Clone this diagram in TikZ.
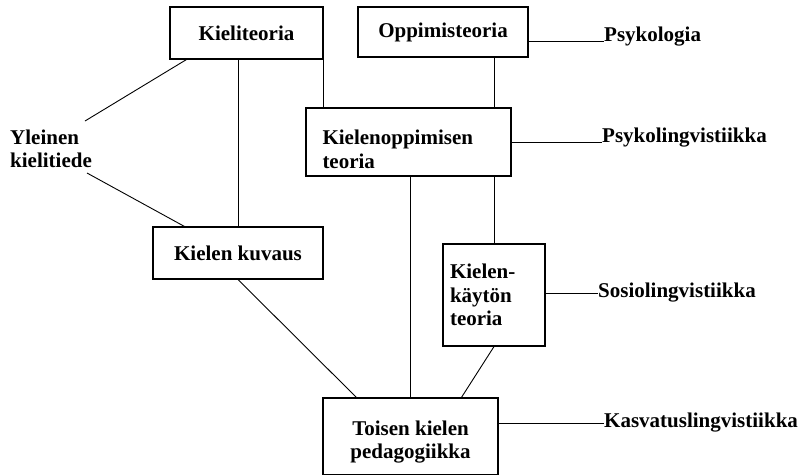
\documentclass[tikz,border=0pt]{standalone}
\usepackage{fontspec}
\usetikzlibrary{calc}
\newfontfamily\diagfont{Liberation Serif}
\begin{document}
\begin{tikzpicture}[x=1pt,y=-1pt,
  every node/.style={font=\diagfont\bfseries\fontsize{21}{23.5}\selectfont},
  box/.style={draw,line width=1.1pt,inner sep=0pt,align=left},
  lbl/.style={inner sep=0pt,align=left},
  conn/.style={line width=0.9pt}]
\useasboundingbox (0,0) rectangle (810,474);
% boxes
\node[box,minimum width=153pt,minimum height=52pt] (kt) at (246.5,33) {Kieliteoria};
\node[box,minimum width=170pt,minimum height=50pt] (op) at (443,32) {Oppimisteoria};
\node[box,minimum width=205pt,minimum height=68pt,text width=172pt] (ko) at (408.5,142) {\rule{0pt}{29pt}Kielenoppimisen\\teoria};
\node[box,minimum width=170pt,minimum height=52pt] (kk) at (238,253) {Kielen kuvaus};
\node[box,minimum width=102pt,minimum height=102pt,text width=88pt] (ka) at (494,295) {Kielen-\\käytön\\teoria};
\node[box,minimum width=175pt,minimum height=77pt,align=center] (tp) at (410.5,436.5) {\rule{0pt}{26pt}Toisen kielen\\pedagogiikka};
% labels
\node[lbl,anchor=west] (yk) at (10,149) {Yleinen\\kielitiede};
\node[lbl,anchor=base west] (ps) at (604,41) {Psykologia};
\node[lbl,anchor=base west] (pl) at (602,142) {Psykolingvistiikka};
\node[lbl,anchor=west] (so) at (598,293) {Sosiolingvistiikka};
\node[lbl,anchor=west] (ka2) at (604,423) {Kasvatuslingvistiikka};
% coordinates
\coordinate (ya) at (85,121);
\coordinate (yb) at (87,173);
% connectors
\draw[conn] ($(kt.south west)+(17,0)$) -- (ya);
\draw[conn] (yb) -- ($(kk.north west)+(32,0)$);
\draw[conn] (kt.south -| kk.north) -- (kk.north);
\draw[conn] (kt.south east) -- (kt.south east |- ko.north);
\draw[conn] (op.south -| ka.north) -- (ko.north -| ka.north);
\draw[conn] (ko.south -| ka.north) -- (ka.north);
\draw[conn] (ko.south -| tp.north) -- (tp.north);
\draw[conn] (kk.south) -- ($(tp.north west)+(34,0)$);
\draw[conn] (ka.south) -- ($(tp.north west)+(139,0)$);
\draw[conn] (op.east |- ps.base) -- (ps.base west);
\draw[conn] (ko.east |- pl.base) -- (pl.base west);
\draw[conn] (ka.east |- so.west) -- (so.west);
\draw[conn] (tp.east |- ka2.west) -- (ka2.west);
\end{tikzpicture}
\end{document}
